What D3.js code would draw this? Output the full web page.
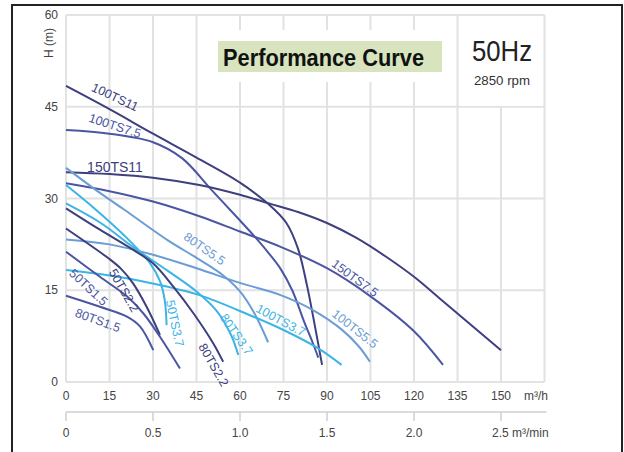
<!DOCTYPE html>
<html>
<head>
<meta charset="utf-8">
<script src="https://cdn.jsdelivr.net/npm/d3@7"></script>
<style>
body { margin: 0; background: #fff; }
svg { display: block; font-family: "Liberation Sans", Arial, sans-serif; }
</style>
</head>
<body>
<script>
// axis ticks
var flowTicks = [0, 15, 30, 45, 60, 75, 90, 105, 120, 135, 150];
var gridFlow = [0, 15, 30, 45, 60, 75, 90, 105, 120, 135, 150, 165];
var headTicks = [0, 15, 30, 45, 60];
var minTicks = [0, 0.5, 1.0, 1.5, 2.0, 2.5];
var minLabels = ["0", "0.5", "1.0", "1.5", "2.0", "2.5 m\u00b3/min"];

// curves: [flow m3/h, head m]
var c100TS11 = [[0,48.4],[15,44.6],[30,40.6],[45,36.7],[60,32.6],[70,29],[76,26],[80,21.8],[83,16],[85.5,10],[88.3,2.8]];
var c100TS75 = [[0,41.2],[15,40.6],[30,39.2],[40,36.6],[50,31.5],[60,26.4],[65,23.8],[70,21],[74,18.5],[78,15],[82,10],[85,6.5],[87,4]];
var c150TS11 = [[0,34.3],[15,34],[30,33.4],[46,32.2],[60,30.6],[70,29.2],[80,27.8],[90,26],[100,23.6],[110,20.6],[120,17.2],[130,13.2],[140,9.2],[150,5.2]];
var c150TS75 = [[0,32.5],[15,31.2],[30,29.5],[46,27.1],[60,24.6],[74,22.1],[90,18.6],[105,14],[120,8.3],[130,2.8]];
var c80TS55 = [[0,35],[10,31.5],[20,28.2],[35,23.2],[45,20.3],[54,17.5],[60,14.8],[65,11.2],[69.7,6.5]];
var c100TS55 = [[0,23.3],[15,22.5],[30,20.8],[45,18.6],[60,16.2],[74,14.2],[85,11.8],[95,8.6],[101,5.8],[104.8,3.3]];
var c100TS37 = [[0,18.3],[15,17.4],[29,16.2],[46,14.2],[63,11],[75,8.5],[87,5.5],[95,2.8]];
var c80TS37 = [[0,29.2],[12,26],[23,22.1],[35,18.2],[45,14.8],[52,11.6],[57,7.6],[59.4,4.4]];
var c50TS37 = [[0,32.2],[10,28.3],[20,24],[29,19.4],[32.4,16.5],[34,13.5],[34.7,9.3]];
var c80TS22 = [[0,28.4],[11.7,24.9],[23.2,21.6],[30,19.4],[37,15.6],[44,11.2],[50.8,6.3],[54.2,3.3]];
var c50TS22 = [[0,25.1],[15,20.1],[19,18.5],[23,16.2],[27.8,12.3],[32.4,7.7]];
var c50TS15 = [[0,21.3],[11.7,17.2],[21,14],[26.7,11.2],[32.4,7.4],[39.3,2.2]];
var c80TS15 = [[0,14.1],[11.7,12.3],[21,10.7],[25.5,9.1],[30.1,5.2]];

var curveNames = ["100TS11","100TS7.5","150TS11","150TS7.5","80TS5.5","100TS5.5","100TS3.7","80TS3.7","50TS3.7","80TS2.2","50TS2.2","50TS1.5","80TS1.5"];
var curveData = [c100TS11,c100TS75,c150TS11,c150TS75,c80TS55,c100TS55,c100TS37,c80TS37,c50TS37,c80TS22,c50TS22,c50TS15,c80TS15];

// label anchor (flow, head) and angle for each curve
var labelFlow = [16.9, 16.9, 16.9, 99.7, 47.8, 99.7, 74.1, 58.8, 37.6, 50.9, 20, 7.8, 11];
var labelHead = [46.6, 41.9, 35.1, 17.0, 21.8, 8.7, 10.1, 7.8, 9.6, 2.8, 15, 15.5, 10.1];
var labelAngle = [25, 18, 0, 36, 35, 38, 28, 55, 78, 60, 60, 43, 20];

var navy = "#3d3f7e", indigo = "#4a56a2", steel = "#6a9dd6", cyan = "#3cb4e6";
var curveColors = [navy, indigo, navy, indigo, steel, steel, cyan, cyan, cyan, navy, navy, indigo, indigo];

var W = 624, H = 452;
var svg = d3.select("body").append("svg").attr("width", W).attr("height", H);
svg.append("rect").attr("width", W).attr("height", H).attr("fill", "#fff");

var x = d3.scaleLinear().domain([0, 165]).range([66, 544.5]);
var y = d3.scaleLinear().domain([0, 60]).range([382, 15]);

// grid
svg.selectAll("line.vg").data(gridFlow).enter().append("line")
  .attr("x1", d => x(d)).attr("x2", d => x(d))
  .attr("y1", y(0)).attr("y2", y(60))
  .attr("stroke", "#e2e2e2").attr("stroke-width", 2);
svg.selectAll("line.hg").data(headTicks).enter().append("line")
  .attr("x1", x(0)).attr("x2", x(165))
  .attr("y1", d => y(d)).attr("y2", d => y(d))
  .attr("stroke", "#e2e2e2").attr("stroke-width", 2);

// white panels over grid
svg.append("rect").attr("x", 206).attr("y", 30).attr("width", 244).attr("height", 52).attr("fill", "#fff");
svg.append("rect").attr("x", 459).attr("y", 16).attr("width", 84).attr("height", 90).attr("fill", "#fff");

// title
svg.append("rect").attr("x", 218).attr("y", 41).attr("width", 224).attr("height", 31).attr("fill", "#d7e4bd");
svg.append("text").attr("x", 223).attr("y", 66).attr("font-size", 23).attr("font-weight", "bold")
  .attr("textLength", 201).attr("lengthAdjust", "spacingAndGlyphs").attr("fill", "#111")
  .text("Performance Curve");
svg.append("text").attr("x", 502).attr("y", 61).attr("text-anchor", "middle").attr("font-size", 30)
  .attr("textLength", 60).attr("lengthAdjust", "spacingAndGlyphs").attr("fill", "#222").text("50Hz");
svg.append("text").attr("x", 502).attr("y", 85).attr("text-anchor", "middle").attr("font-size", 13)
  .attr("textLength", 56).attr("lengthAdjust", "spacingAndGlyphs").attr("fill", "#333").text("2850 rpm");

// curves
var line = d3.line().x(d => x(d[0])).y(d => y(d[1])).curve(d3.curveCatmullRom.alpha(0.5));
svg.selectAll("path.pc").data(curveData).enter().append("path")
  .attr("d", line).attr("fill", "none")
  .attr("stroke", (d, i) => curveColors[i]).attr("stroke-width", 2);

// curve labels
svg.selectAll("text.cl").data(curveNames).enter().append("text")
  .attr("transform", (d, i) => "translate(" + x(labelFlow[i]) + "," + y(labelHead[i]) + ") rotate(" + labelAngle[i] + ")")
  .attr("text-anchor", "middle").attr("dy", "0.35em")
  .attr("font-size", (d, i) => i === 2 ? 14 : 12.5).attr("fill", (d, i) => curveColors[i])
  .text(d => d);

// y axis labels
svg.selectAll("text.yl").data(headTicks).enter().append("text")
  .attr("x", 58).attr("y", d => y(d)).attr("dy", "0.35em").attr("text-anchor", "end")
  .attr("font-size", 12).attr("fill", "#444").text(d => d);
svg.append("text").attr("transform", "translate(53,43) rotate(-90)").attr("text-anchor", "middle")
  .attr("font-size", 12).attr("fill", "#444").text("H (m)");

// flow axis labels (m3/h)
svg.selectAll("text.xl").data(flowTicks).enter().append("text")
  .attr("x", d => x(d)).attr("y", 400).attr("text-anchor", "middle")
  .attr("font-size", 12).attr("fill", "#444").text(d => d);
svg.append("text").attr("x", 524).attr("y", 400).attr("font-size", 12).attr("fill", "#444").text("m\u00b3/h");

// second axis (m3/min)
var xm = d3.scaleLinear().domain([0, 2.75]).range([x(0), x(165)]);
svg.append("line").attr("x1", xm(0)).attr("x2", xm(2.75) + 2).attr("y1", 412).attr("y2", 412)
  .attr("stroke", "#cfcfcf").attr("stroke-width", 1.5);
svg.selectAll("line.mt").data(minTicks).enter().append("line")
  .attr("x1", d => xm(d)).attr("x2", d => xm(d)).attr("y1", 412).attr("y2", 421)
  .attr("stroke", "#cfcfcf").attr("stroke-width", 1.5);
svg.selectAll("text.ml").data(minTicks).enter().append("text")
  .attr("x", (d, i) => i === minTicks.length - 1 ? xm(d) - 9 : xm(d))
  .attr("y", 437).attr("text-anchor", (d, i) => i === minTicks.length - 1 ? "start" : "middle")
  .attr("font-size", 12).attr("fill", "#444").text((d, i) => minLabels[i]);

// outer frame
svg.append("rect").attr("x", 12).attr("y", 5).attr("width", 610).attr("height", 480)
  .attr("fill", "none").attr("stroke", "#222").attr("stroke-width", 2);
</script>
</body>
</html>
